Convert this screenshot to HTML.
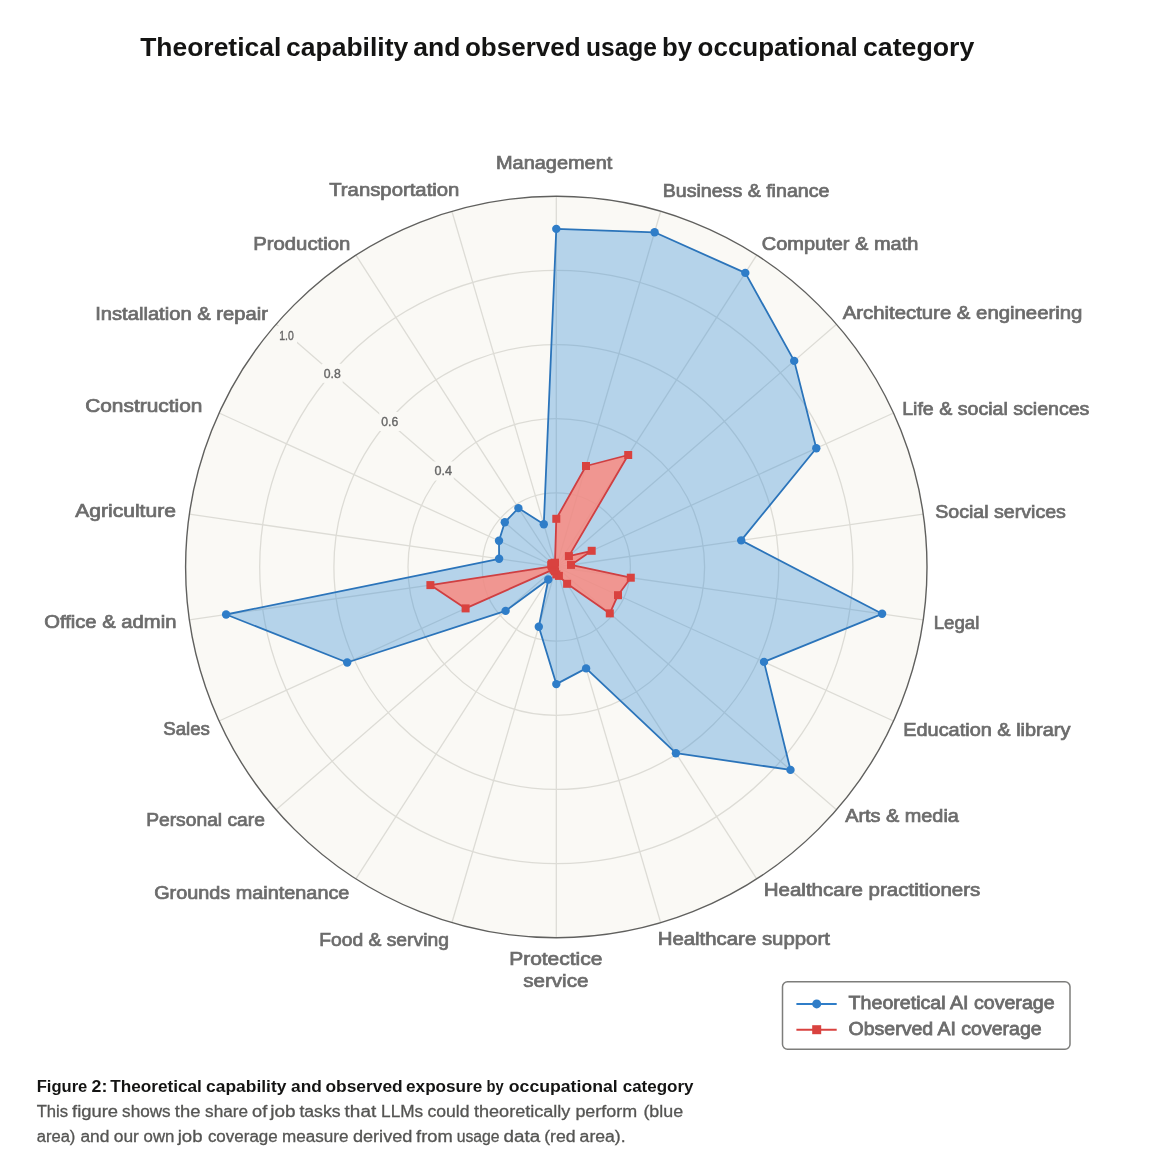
<!DOCTYPE html>
<html lang="en">
<head>
<meta charset="utf-8">
<title>Theoretical capability and observed usage by occupational category</title>
<style>
html,body{margin:0;padding:0;background:#fff;}
body{width:1152px;height:1171px;overflow:hidden;}
svg{display:block;}
text{font-family:"Liberation Sans",Arial,Helvetica,sans-serif;}
.lbl{font-size:17.6px;fill:#6c6c6c;stroke:#6c6c6c;stroke-width:0.7px;}
.tick{font-size:12px;fill:#666;stroke:#666;stroke-width:0.35px;}
.ttl{font-size:26.5px;font-weight:bold;fill:#141413;}
.capb{font-size:16px;font-weight:bold;fill:#141413;}
.cap{font-size:16px;fill:#555553;stroke:#555553;stroke-width:0.3px;}
.leg{font-size:18.5px;fill:#6c6c6c;stroke:#6c6c6c;stroke-width:0.8px;}
</style>
</head>
<body>
<svg width="1152" height="1171" viewBox="0 0 1152 1171">
<rect width="1152" height="1171" fill="#ffffff"/>
<text class="ttl" y="56"><tspan x="140.2" textLength="141.1" lengthAdjust="spacingAndGlyphs">Theoretical</tspan> <tspan x="286.0" textLength="122.3" lengthAdjust="spacingAndGlyphs">capability</tspan> <tspan x="413.3" textLength="47.1" lengthAdjust="spacingAndGlyphs">and</tspan> <tspan x="464.9" textLength="115.8" lengthAdjust="spacingAndGlyphs">observed</tspan> <tspan x="586.0" textLength="71.0" lengthAdjust="spacingAndGlyphs">usage</tspan> <tspan x="662.0" textLength="30.1" lengthAdjust="spacingAndGlyphs">by</tspan> <tspan x="697.6" textLength="160.1" lengthAdjust="spacingAndGlyphs">occupational</tspan> <tspan x="863.0" textLength="111.3" lengthAdjust="spacingAndGlyphs">category</tspan></text>
<circle cx="556.3" cy="567.0" r="370.7" fill="#faf9f5"/>
<g fill="none" stroke="#dddcd6" stroke-width="1.3">
<circle cx="556.3" cy="567.0" r="74.1"/>
<circle cx="556.3" cy="567.0" r="148.3"/>
<circle cx="556.3" cy="567.0" r="222.4"/>
<circle cx="556.3" cy="567.0" r="296.6"/>
<line x1="556.3" y1="567.0" x2="556.3" y2="196.3"/>
<line x1="556.3" y1="567.0" x2="660.7" y2="211.3"/>
<line x1="556.3" y1="567.0" x2="756.7" y2="255.1"/>
<line x1="556.3" y1="567.0" x2="836.5" y2="324.2"/>
<line x1="556.3" y1="567.0" x2="893.5" y2="413.0"/>
<line x1="556.3" y1="567.0" x2="923.2" y2="514.2"/>
<line x1="556.3" y1="567.0" x2="923.2" y2="619.8"/>
<line x1="556.3" y1="567.0" x2="893.5" y2="721.0"/>
<line x1="556.3" y1="567.0" x2="836.5" y2="809.8"/>
<line x1="556.3" y1="567.0" x2="756.7" y2="878.9"/>
<line x1="556.3" y1="567.0" x2="660.7" y2="922.7"/>
<line x1="556.3" y1="567.0" x2="556.3" y2="937.7"/>
<line x1="556.3" y1="567.0" x2="451.9" y2="922.7"/>
<line x1="556.3" y1="567.0" x2="355.9" y2="878.9"/>
<line x1="556.3" y1="567.0" x2="276.1" y2="809.8"/>
<line x1="556.3" y1="567.0" x2="219.1" y2="721.0"/>
<line x1="556.3" y1="567.0" x2="189.4" y2="619.8"/>
<line x1="556.3" y1="567.0" x2="189.4" y2="514.2"/>
<line x1="556.3" y1="567.0" x2="219.1" y2="413.0"/>
<line x1="556.3" y1="567.0" x2="276.1" y2="324.2"/>
<line x1="556.3" y1="567.0" x2="355.9" y2="255.1"/>
<line x1="556.3" y1="567.0" x2="451.9" y2="211.3"/>
</g>
<polygon points="556.3,228.9 654.6,232.3 745.3,272.9 794.2,360.9 816.3,448.3 741.2,540.4 882.1,613.8 764.0,661.9 790.5,769.9 675.9,753.2 586.1,668.4 556.3,684.1 538.8,626.8 548.3,579.5 505.6,610.9 347.2,662.5 226.1,614.5 499.1,558.8 499.0,540.8 504.8,522.3 518.4,508.1 543.8,524.3" fill="#358cd8" fill-opacity="0.35" stroke="none"/>
<polygon points="556.3,228.9 654.6,232.3 745.3,272.9 794.2,360.9 816.3,448.3 741.2,540.4 882.1,613.8 764.0,661.9 790.5,769.9 675.9,753.2 586.1,668.4 556.3,684.1 538.8,626.8 548.3,579.5 505.6,610.9 347.2,662.5 226.1,614.5 499.1,558.8 499.0,540.8 504.8,522.3 518.4,508.1 543.8,524.3" fill="none" stroke="#2b74ba" stroke-width="1.8" stroke-linejoin="round"/>
<g fill="#2f7dc8">
<circle cx="556.3" cy="228.9" r="4.2"/>
<circle cx="654.6" cy="232.3" r="4.2"/>
<circle cx="745.3" cy="272.9" r="4.2"/>
<circle cx="794.2" cy="360.9" r="4.2"/>
<circle cx="816.3" cy="448.3" r="4.2"/>
<circle cx="741.2" cy="540.4" r="4.2"/>
<circle cx="882.1" cy="613.8" r="4.2"/>
<circle cx="764.0" cy="661.9" r="4.2"/>
<circle cx="790.5" cy="769.9" r="4.2"/>
<circle cx="675.9" cy="753.2" r="4.2"/>
<circle cx="586.1" cy="668.4" r="4.2"/>
<circle cx="556.3" cy="684.1" r="4.2"/>
<circle cx="538.8" cy="626.8" r="4.2"/>
<circle cx="548.3" cy="579.5" r="4.2"/>
<circle cx="505.6" cy="610.9" r="4.2"/>
<circle cx="347.2" cy="662.5" r="4.2"/>
<circle cx="226.1" cy="614.5" r="4.2"/>
<circle cx="499.1" cy="558.8" r="4.2"/>
<circle cx="499.0" cy="540.8" r="4.2"/>
<circle cx="504.8" cy="522.3" r="4.2"/>
<circle cx="518.4" cy="508.1" r="4.2"/>
<circle cx="543.8" cy="524.3" r="4.2"/>
</g>
<polygon points="556.3,518.8 586.0,466.0 628.2,455.0 568.9,556.1 591.7,550.8 571.0,564.9 630.8,577.7 618.0,595.2 609.8,613.4 567.1,583.8 558.9,575.9 556.3,574.4 555.0,571.3 554.3,570.1 553.5,569.4 465.6,608.4 430.4,585.1 551.9,566.4 551.2,564.7 552.1,563.4 553.9,563.3 555.0,562.7" fill="#ff877a" fill-opacity="0.8" stroke="none"/>
<polygon points="556.3,518.8 586.0,466.0 628.2,455.0 568.9,556.1 591.7,550.8 571.0,564.9 630.8,577.7 618.0,595.2 609.8,613.4 567.1,583.8 558.9,575.9 556.3,574.4 555.0,571.3 554.3,570.1 553.5,569.4 465.6,608.4 430.4,585.1 551.9,566.4 551.2,564.7 552.1,563.4 553.9,563.3 555.0,562.7" fill="none" stroke="#cf3f42" stroke-width="1.8" stroke-linejoin="round"/>
<g fill="#d9423f">
<rect x="552.3" y="514.8" width="8" height="8"/>
<rect x="582.0" y="462.0" width="8" height="8"/>
<rect x="624.2" y="451.0" width="8" height="8"/>
<rect x="564.9" y="552.1" width="8" height="8"/>
<rect x="587.7" y="546.8" width="8" height="8"/>
<rect x="567.0" y="560.9" width="8" height="8"/>
<rect x="626.8" y="573.7" width="8" height="8"/>
<rect x="614.0" y="591.2" width="8" height="8"/>
<rect x="605.8" y="609.4" width="8" height="8"/>
<rect x="563.1" y="579.8" width="8" height="8"/>
<rect x="554.9" y="571.9" width="8" height="8"/>
<rect x="552.3" y="570.4" width="8" height="8"/>
<rect x="551.0" y="567.3" width="8" height="8"/>
<rect x="550.3" y="566.1" width="8" height="8"/>
<rect x="549.5" y="565.4" width="8" height="8"/>
<rect x="461.6" y="604.4" width="8" height="8"/>
<rect x="426.4" y="581.1" width="8" height="8"/>
<rect x="547.9" y="562.4" width="8" height="8"/>
<rect x="547.2" y="560.7" width="8" height="8"/>
<rect x="548.1" y="559.4" width="8" height="8"/>
<rect x="549.9" y="559.3" width="8" height="8"/>
<rect x="551.0" y="558.7" width="8" height="8"/>
</g>
<rect x="276.0" y="326.1" width="21" height="19" fill="#faf9f5"/>
<text class="tick" x="279.2" y="340.0" textLength="14.5" lengthAdjust="spacingAndGlyphs">1.0</text>
<rect x="321.7" y="363.8" width="21" height="19" fill="#faf9f5"/>
<text class="tick" x="323.7" y="377.7" textLength="17.0" lengthAdjust="spacingAndGlyphs">0.8</text>
<rect x="379.3" y="412.0" width="21" height="19" fill="#faf9f5"/>
<text class="tick" x="381.3" y="425.9" textLength="17.0" lengthAdjust="spacingAndGlyphs">0.6</text>
<rect x="432.7" y="461.5" width="21" height="19" fill="#faf9f5"/>
<text class="tick" x="434.4" y="475.4" textLength="17.5" lengthAdjust="spacingAndGlyphs">0.4</text>
<circle cx="556.3" cy="567.0" r="370.7" fill="none" stroke="#60605e" stroke-width="1.4"/>
<text class="lbl" x="496.0" y="169.2" textLength="116.3" lengthAdjust="spacingAndGlyphs">Management</text>
<text class="lbl" x="662.7" y="197.0" textLength="166.7" lengthAdjust="spacingAndGlyphs">Business &amp; finance</text>
<text class="lbl" x="761.7" y="249.7" textLength="156.7" lengthAdjust="spacingAndGlyphs">Computer &amp; math</text>
<text class="lbl" x="842.7" y="319.2" textLength="239.7" lengthAdjust="spacingAndGlyphs">Architecture &amp; engineering</text>
<text class="lbl" x="902.2" y="415.2" textLength="187.2" lengthAdjust="spacingAndGlyphs">Life &amp; social sciences</text>
<text class="lbl" x="935.2" y="518.3" textLength="130.7" lengthAdjust="spacingAndGlyphs">Social services</text>
<text class="lbl" x="933.7" y="629.3" textLength="45.7" lengthAdjust="spacingAndGlyphs">Legal</text>
<text class="lbl" x="903.2" y="735.6" textLength="167.2" lengthAdjust="spacingAndGlyphs">Education &amp; library</text>
<text class="lbl" x="845.2" y="821.7" textLength="113.7" lengthAdjust="spacingAndGlyphs">Arts &amp; media</text>
<text class="lbl" x="763.7" y="896.2" textLength="216.7" lengthAdjust="spacingAndGlyphs">Healthcare practitioners</text>
<text class="lbl" x="657.7" y="945.2" textLength="172.2" lengthAdjust="spacingAndGlyphs">Healthcare support</text>
<text class="lbl" x="509.2" y="965.2" textLength="93.2" lengthAdjust="spacingAndGlyphs">Protectice</text>
<text class="lbl" x="523.2" y="987.0" textLength="65.2" lengthAdjust="spacingAndGlyphs">service</text>
<text class="lbl" x="319.2" y="946.2" textLength="129.7" lengthAdjust="spacingAndGlyphs">Food &amp; serving</text>
<text class="lbl" x="154.2" y="898.7" textLength="195.2" lengthAdjust="spacingAndGlyphs">Grounds maintenance</text>
<text class="lbl" x="146.2" y="825.7" textLength="118.7" lengthAdjust="spacingAndGlyphs">Personal care</text>
<text class="lbl" x="163.2" y="735.0" textLength="46.7" lengthAdjust="spacingAndGlyphs">Sales</text>
<text class="lbl" x="44.2" y="628.4" textLength="132.2" lengthAdjust="spacingAndGlyphs">Office &amp; admin</text>
<text class="lbl" x="75.2" y="516.7" textLength="100.7" lengthAdjust="spacingAndGlyphs">Agriculture</text>
<text class="lbl" x="85.2" y="411.5" textLength="117.2" lengthAdjust="spacingAndGlyphs">Construction</text>
<text class="lbl" x="95.2" y="319.8" textLength="172.7" lengthAdjust="spacingAndGlyphs">Installation &amp; repair</text>
<text class="lbl" x="253.2" y="249.7" textLength="97.2" lengthAdjust="spacingAndGlyphs">Production</text>
<text class="lbl" x="329.2" y="196.4" textLength="130.2" lengthAdjust="spacingAndGlyphs">Transportation</text>
<rect x="782.5" y="981.7" width="287.5" height="67.5" rx="5" ry="5" fill="#ffffff" stroke="#7d7d7b" stroke-width="1.5"/>
<line x1="796.4" y1="1003.9" x2="836.7" y2="1003.9" stroke="#2f7dc8" stroke-width="2"/>
<circle cx="816.7" cy="1003.9" r="4.5" fill="#2f7dc8"/>
<line x1="796.4" y1="1029.7" x2="836.7" y2="1029.7" stroke="#d9423f" stroke-width="2"/>
<rect x="812.2" y="1025.2" width="9" height="9" fill="#d9423f"/>
<text class="leg" x="848.6" y="1008.9" textLength="206" lengthAdjust="spacingAndGlyphs">Theoretical AI coverage</text>
<text class="leg" x="848.6" y="1035" textLength="193" lengthAdjust="spacingAndGlyphs">Observed AI coverage</text>
<text class="capb" y="1091.6"><tspan x="36.7" textLength="50.6" lengthAdjust="spacingAndGlyphs">Figure</tspan> <tspan x="91.5" textLength="15.8" lengthAdjust="spacingAndGlyphs">2:</tspan> <tspan x="110.2" textLength="91.7" lengthAdjust="spacingAndGlyphs">Theoretical</tspan> <tspan x="206.1" textLength="80.3" lengthAdjust="spacingAndGlyphs">capability</tspan> <tspan x="291.1" textLength="30.8" lengthAdjust="spacingAndGlyphs">and</tspan> <tspan x="325.4" textLength="77.3" lengthAdjust="spacingAndGlyphs">observed</tspan> <tspan x="406.1" textLength="76.2" lengthAdjust="spacingAndGlyphs">exposure</tspan> <tspan x="486.5" textLength="17.2" lengthAdjust="spacingAndGlyphs">by</tspan> <tspan x="508.8" textLength="108.9" lengthAdjust="spacingAndGlyphs">occupational</tspan> <tspan x="622.7" textLength="70.9" lengthAdjust="spacingAndGlyphs">category</tspan></text>
<text class="cap" y="1116.6"><tspan x="36.7" textLength="31.4" lengthAdjust="spacingAndGlyphs">This</tspan> <tspan x="72.1" textLength="46.0" lengthAdjust="spacingAndGlyphs">figure</tspan> <tspan x="122.1" textLength="48.5" lengthAdjust="spacingAndGlyphs">shows</tspan> <tspan x="174.8" textLength="25.6" lengthAdjust="spacingAndGlyphs">the</tspan> <tspan x="205.1" textLength="42.9" lengthAdjust="spacingAndGlyphs">share</tspan> <tspan x="252.0" textLength="15.2" lengthAdjust="spacingAndGlyphs">of</tspan> <tspan x="270.2" textLength="25.2" lengthAdjust="spacingAndGlyphs">job</tspan> <tspan x="299.4" textLength="41.2" lengthAdjust="spacingAndGlyphs">tasks</tspan> <tspan x="344.6" textLength="31.6" lengthAdjust="spacingAndGlyphs">that</tspan> <tspan x="381.1" textLength="42.0" lengthAdjust="spacingAndGlyphs">LLMs</tspan> <tspan x="427.5" textLength="41.9" lengthAdjust="spacingAndGlyphs">could</tspan> <tspan x="474.0" textLength="96.4" lengthAdjust="spacingAndGlyphs">theoretically</tspan> <tspan x="575.4" textLength="61.7" lengthAdjust="spacingAndGlyphs">perform</tspan> <tspan x="643.4" textLength="39.7" lengthAdjust="spacingAndGlyphs">(blue</tspan></text>
<text class="cap" y="1141.6"><tspan x="36.7" textLength="38.7" lengthAdjust="spacingAndGlyphs">area)</tspan> <tspan x="80.4" textLength="29.0" lengthAdjust="spacingAndGlyphs">and</tspan> <tspan x="113.8" textLength="25.1" lengthAdjust="spacingAndGlyphs">our</tspan> <tspan x="143.6" textLength="30.8" lengthAdjust="spacingAndGlyphs">own</tspan> <tspan x="177.7" textLength="24.8" lengthAdjust="spacingAndGlyphs">job</tspan> <tspan x="207.9" textLength="69.8" lengthAdjust="spacingAndGlyphs">coverage</tspan> <tspan x="282.1" textLength="66.4" lengthAdjust="spacingAndGlyphs">measure</tspan> <tspan x="352.9" textLength="59.5" lengthAdjust="spacingAndGlyphs">derived</tspan> <tspan x="416.1" textLength="36.6" lengthAdjust="spacingAndGlyphs">from</tspan> <tspan x="456.7" textLength="42.9" lengthAdjust="spacingAndGlyphs">usage</tspan> <tspan x="503.6" textLength="36.6" lengthAdjust="spacingAndGlyphs">data</tspan> <tspan x="544.2" textLength="31.4" lengthAdjust="spacingAndGlyphs">(red</tspan> <tspan x="579.6" textLength="46.0" lengthAdjust="spacingAndGlyphs">area).</tspan></text>
</svg>
</body>
</html>
